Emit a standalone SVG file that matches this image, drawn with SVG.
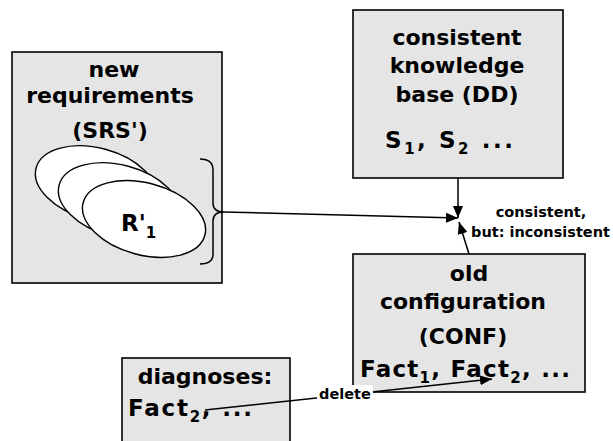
<svg xmlns="http://www.w3.org/2000/svg" width="613" height="441" viewBox="0 0 613 441">
  <style>
    .box { fill: #e5e5e5; stroke: #000; stroke-width: 1.6; }
    .ell { fill: #fff; stroke: #000; stroke-width: 1.4; }
    .t { font-family: "DejaVu Sans", "Liberation Sans", sans-serif; font-weight: bold; font-size: 22px; fill: #000; text-anchor: middle; }
    .l { font-family: "DejaVu Sans", "Liberation Sans", sans-serif; font-weight: bold; font-size: 23px; fill: #000; text-anchor: start; }
    .s { font-family: "DejaVu Sans", "Liberation Sans", sans-serif; font-weight: bold; font-size: 14.5px; fill: #000; }
    .sub { font-size: 15px; }
    .line { fill: none; stroke: #000; stroke-width: 1.5; }
  </style>
  <defs>
    <marker id="arrow" viewBox="0 0 12 10" refX="12" refY="5" markerWidth="12" markerHeight="10" markerUnits="userSpaceOnUse" orient="auto">
      <path d="M0,0 L12,5 L0,10 Z" fill="#000"/>
    </marker>
  </defs>

  <!-- new requirements -->
  <g id="new-requirements">
    <rect class="box" x="12" y="52" width="210" height="231"/>
    <text class="t" x="114" y="77">new</text>
    <text class="t" x="110" y="103">requirements</text>
    <text class="t" x="110" y="138">(SRS')</text>
    <ellipse class="ell" cx="96" cy="184" rx="62" ry="36" transform="rotate(15 96 184)"/>
    <ellipse class="ell" cx="119" cy="201" rx="62" ry="36" transform="rotate(15 119 201)"/>
    <ellipse class="ell" cx="144" cy="219" rx="63" ry="36" transform="rotate(15 144 219)"/>
    <text class="l" x="121" y="231">R'<tspan class="sub" dy="7">1</tspan></text>
    <path class="line" d="M200,159 Q213,159 213,170 L213,203 Q213,212 224,212 Q213,212 213,221 L213,254 Q213,264 200,264"/>
  </g>

  <!-- consistent knowledge base -->
  <g id="knowledge-base">
    <rect class="box" x="353" y="10" width="210" height="168"/>
    <text class="t" x="457" y="45">consistent</text>
    <text class="t" x="457" y="73">knowledge</text>
    <text class="t" x="457" y="102">base (DD)</text>
    <text class="l" x="385" y="148" textLength="128" lengthAdjust="spacing">S<tspan class="sub" dy="6">1</tspan><tspan dy="-6">,  S</tspan><tspan class="sub" dy="6">2</tspan><tspan dy="-6"> ...</tspan></text>
  </g>

  <!-- old configuration -->
  <g id="old-configuration">
    <rect class="box" x="353" y="254" width="232" height="138"/>
    <text class="t" x="469" y="281">old</text>
    <text class="t" x="463" y="309">configuration</text>
    <text class="t" x="463" y="344">(CONF)</text>
    <text class="l" x="360" y="377" textLength="210" lengthAdjust="spacing">Fact<tspan class="sub" dy="6">1</tspan><tspan dy="-6">, Fact</tspan><tspan class="sub" dy="6">2</tspan><tspan dy="-6">, ...</tspan></text>
  </g>

  <!-- diagnoses -->
  <g id="diagnoses">
    <rect class="box" x="122" y="358" width="168" height="95"/>
    <text class="t" x="205" y="384">diagnoses:</text>
    <text class="l" x="128" y="416" textLength="124" lengthAdjust="spacing">Fact<tspan class="sub" dy="6">2</tspan><tspan dy="-6">, ...</tspan></text>
  </g>

  <!-- connectors -->
  <g id="connectors">
    <line class="line" x1="224" y1="212" x2="458" y2="218" marker-end="url(#arrow)"/>
    <line class="line" x1="458" y1="178" x2="458" y2="218" marker-end="url(#arrow)"/>
    <line class="line" x1="469" y1="254" x2="459" y2="222" marker-end="url(#arrow)"/>
    <line class="line" x1="205" y1="410" x2="492" y2="379" marker-end="url(#arrow)"/>
    <rect x="317" y="385" width="56" height="18" fill="#fff"/>
    <text class="s" x="345" y="399" text-anchor="middle">delete</text>
    <text class="s" x="541" y="217" text-anchor="middle">consistent,</text>
    <text class="s" x="471" y="237">but: inconsistent</text>
  </g>
</svg>
